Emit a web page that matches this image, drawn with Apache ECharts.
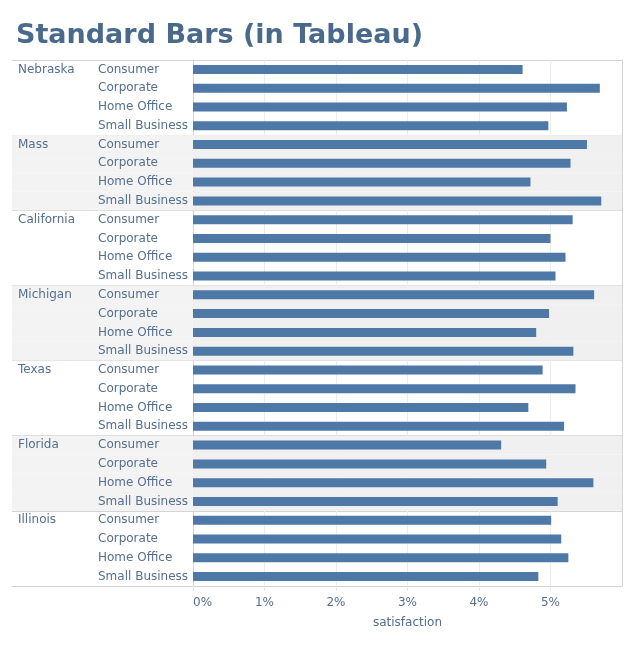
<!DOCTYPE html>
<html>
<head>
<meta charset="utf-8">
<script src="https://cdn.jsdelivr.net/npm/echarts@6/dist/echarts.min.js"></script>
<style>
  html, body { margin: 0; padding: 0; background: #ffffff; }
  #chart { width: 635px; height: 650px; }
</style>
</head>
<body>
<div id="chart"></div>
<script>
// ---- data (satisfaction, in %) ----
const states = ['Nebraska', 'Mass', 'California', 'Michigan', 'Texas', 'Florida', 'Illinois'];
const segments = ['Consumer', 'Corporate', 'Home Office', 'Small Business'];
const nebraska   = [4.61, 5.69, 5.23, 4.97];
const mass       = [5.51, 5.28, 4.72, 5.71];
const california = [5.31, 5.00, 5.21, 5.07];
const michigan   = [5.61, 4.98, 4.80, 5.32];
const texas      = [4.89, 5.35, 4.69, 5.19];
const florida    = [4.31, 4.94, 5.60, 5.10];
const illinois   = [5.01, 5.15, 5.25, 4.83];
const xTicks = [0, 1, 2, 3, 4, 5, 6];
const shadedStates = ['Mass', 'Michigan', 'Florida'];

const valuesByState = [nebraska, mass, california, michigan, texas, florida, illinois];

// build rows
const rowKeys = [];
const rowValues = [];
states.forEach((s, i) => {
  segments.forEach((seg, j) => {
    rowKeys.push(s + '|' + seg);
    rowValues.push(valuesByState[i][j]);
  });
});
const xMax = xTicks[xTicks.length - 1];
const bgPane = rowKeys.map(k => shadedStates.includes(k.split('|')[0]) ? xMax : null);
const bgHeader = rowKeys.map(k => shadedStates.includes(k.split('|')[0]) ? 1 : null);

const FONT = 'DejaVu Sans';
const TXT = '#556f8f';
const BORDER = '#d4d4d4';
const groupLine = (idx) => idx % segments.length === 0;

const chart = echarts.init(document.getElementById('chart'), null, { renderer: 'canvas' });
chart.setOption({
  backgroundColor: '#ffffff',
  animation: false,
  title: {
    text: 'Standard Bars (in Tableau)',
    left: 16,
    top: 22,
    padding: 0,
    textStyle: { fontFamily: FONT, fontWeight: 'bold', fontSize: 27, color: '#4a6a8c' }
  },
  grid: [
    { left: 193, right: 13, top: 60, bottom: 64, containLabel: false },
    { left: 12, width: 181, top: 60, bottom: 64, containLabel: false }
  ],
  xAxis: [
    {
      gridIndex: 0, type: 'value', min: xTicks[0], max: xMax, interval: 1,
      axisLine: { show: true, lineStyle: { color: BORDER, width: 1 } },
      axisTick: { show: true, length: 5, lineStyle: { color: '#e6e6e6' } },
      splitLine: { show: true, lineStyle: { color: '#ececec', width: 1 } },
      axisLabel: {
        show: true, margin: 11, fontFamily: FONT, fontSize: 12, color: TXT,
        showMaxLabel: false, alignMinLabel: 'left',
        formatter: v => v + '%'
      },
      name: 'satisfaction', nameLocation: 'middle', nameGap: 31,
      nameTextStyle: { fontFamily: FONT, fontSize: 12, color: TXT }
    },
    {
      gridIndex: 1, type: 'value', min: 0, max: 1,
      axisLine: { show: true, lineStyle: { color: BORDER, width: 1 } },
      axisTick: { show: false }, axisLabel: { show: false }, splitLine: { show: false }
    }
  ],
  yAxis: [
    {
      gridIndex: 0, type: 'category', data: rowKeys, inverse: true, position: 'left',
      axisLine: { show: true, lineStyle: { color: BORDER, width: 1 } },
      axisTick: { show: false },
      splitLine: { show: true, interval: groupLine, lineStyle: { color: BORDER, width: 1 } },
      axisLabel: {
        show: true, interval: 0, margin: 95, align: 'left',
        fontFamily: FONT, fontSize: 12, color: TXT,
        formatter: v => v.split('|')[1]
      }
    },
    {
      gridIndex: 0, type: 'category', data: rowKeys, inverse: true, position: 'right',
      axisLine: { show: true, lineStyle: { color: BORDER, width: 1 } },
      axisTick: { show: false }, axisLabel: { show: false }, splitLine: { show: false }
    },
    {
      gridIndex: 1, type: 'category', data: rowKeys, inverse: true, position: 'left',
      axisLine: { show: false }, axisTick: { show: false },
      splitLine: { show: true, interval: groupLine, lineStyle: { color: BORDER, width: 1 } },
      axisLabel: {
        show: true, inside: true, interval: 0, margin: 6, align: 'left',
        fontFamily: FONT, fontSize: 12, color: TXT,
        formatter: (v, i) => (i % segments.length === 0 ? v.split('|')[0] : '')
      }
    }
  ],
  series: [
    {
      name: 'bgPane', type: 'bar', xAxisIndex: 0, yAxisIndex: 1,
      data: bgPane, barWidth: '100%', silent: true, z: 0,
      itemStyle: { color: '#f0f0f0', borderColor: '#f0f0f0', borderWidth: 1 }
    },
    {
      name: 'bgHeader', type: 'bar', xAxisIndex: 1, yAxisIndex: 2,
      data: bgHeader, barWidth: '100%', silent: true, z: 0,
      itemStyle: { color: '#f3f3f3', borderColor: '#f3f3f3', borderWidth: 1 }
    },
    {
      name: 'satisfaction', type: 'bar', xAxisIndex: 0, yAxisIndex: 0,
      data: rowValues, barWidth: 9, z: 3,
      itemStyle: { color: '#4e79a7' }
    }
  ]
});
</script>
</body>
</html>
